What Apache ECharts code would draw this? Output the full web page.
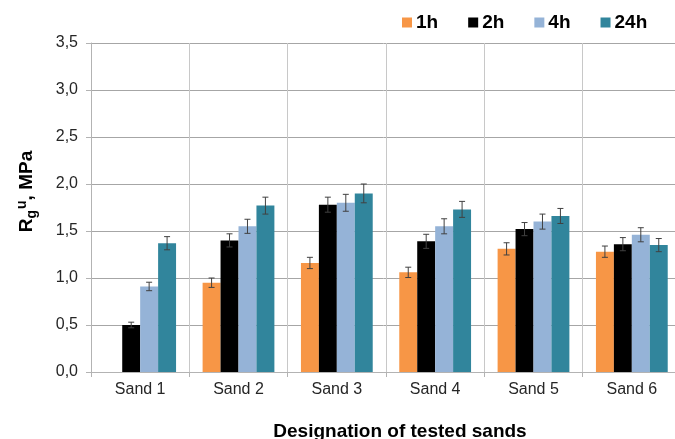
<!DOCTYPE html>
<html>
<head>
<meta charset="utf-8">
<script src="https://cdn.jsdelivr.net/npm/echarts@6/dist/echarts.min.js"></script>
<style>html,body{margin:0;padding:0;background:#fff}#c{width:675px;height:439px}</style>
</head>
<body>
<div id="c"></div>
<script>
var categories = ['Sand 1', 'Sand 2', 'Sand 3', 'Sand 4', 'Sand 5', 'Sand 6'];
var seriesNames = ['1h', '2h', '4h', '24h'];
var values1h = [null, 0.95, 1.16, 1.06, 1.31, 1.28];
var values2h = [0.50, 1.40, 1.78, 1.39, 1.52, 1.36];
var values4h = [0.91, 1.55, 1.80, 1.55, 1.60, 1.46];
var values24h = [1.37, 1.77, 1.90, 1.73, 1.66, 1.35];
var err1h = [null, 0.05, 0.06, 0.055, 0.065, 0.06];
var err2h = [0.03, 0.07, 0.08, 0.075, 0.07, 0.07];
var err4h = [0.045, 0.075, 0.09, 0.08, 0.08, 0.075];
var err24h = [0.07, 0.09, 0.10, 0.085, 0.08, 0.07];
var yTicks = [0, 0.5, 1.0, 1.5, 2.0, 2.5, 3.0, 3.5];

var colors = ['#F79646', '#000000', '#95B3D7', '#31859C'];
var allValues = [values1h, values2h, values4h, values24h];
var allErr = [err1h, err2h, err4h, err24h];
var catGap = 0.27;

var chart = echarts.init(document.getElementById('c'));
var series = [];
seriesNames.forEach(function (name, k) {
  series.push({
    name: name,
    type: 'bar',
    data: allValues[k],
    barGap: '0%',
    barCategoryGap: (catGap * 100) + '%',
    itemStyle: { color: colors[k] },
    z: 2
  });
});
seriesNames.forEach(function (name, k) {
  var d = [];
  allValues[k].forEach(function (v, i) {
    if (v != null) d.push([i, v, allErr[k][i]]);
  });
  series.push({
    type: 'custom',
    data: d,
    z: 5,
    silent: true,
    renderItem: function (params, api) {
      var i = api.value(0), v = api.value(1), e = api.value(2);
      var band = api.size([1, 0])[0];
      var group = band * (1 - catGap);
      var bw = group / 4;
      var c = api.coord([i, v]);
      var x = c[0] - group / 2 + bw * (k + 0.5);
      var yt = api.coord([i, v + e])[1];
      var yb = api.coord([i, v - e])[1];
      var cap = 3;
      var st = { stroke: '#404040', lineWidth: 1 };
      return {
        type: 'group',
        children: [
          { type: 'line', shape: { x1: x, y1: yt, x2: x, y2: yb }, style: st },
          { type: 'line', shape: { x1: x - cap, y1: yt, x2: x + cap, y2: yt }, style: st },
          { type: 'line', shape: { x1: x - cap, y1: yb, x2: x + cap, y2: yb }, style: st }
        ]
      };
    }
  });
});

chart.setOption({
  animation: false,
  color: colors,
  textStyle: { fontFamily: 'Liberation Sans, Arial, sans-serif' },
  legend: {
    data: seriesNames,
    left: 397,
    top: 8,
    icon: 'rect',
    itemWidth: 10,
    itemHeight: 10,
    itemGap: 30,
    textStyle: { fontSize: 19, fontWeight: 'bold', color: '#000', padding: [0, 0, 0, -1] }
  },
  grid: { left: 91, top: 43, width: 590, height: 329, outerBoundsMode: 'none', containLabel: false },
  xAxis: {
    type: 'category',
    data: categories,
    name: 'Designation of tested sands',
    nameLocation: 'middle',
    nameGap: 50,
    nameTextStyle: { fontSize: 19, fontWeight: 'bold', color: '#000', padding: [0, 0, 0, 28] },
    axisLine: { lineStyle: { color: '#b3b3b3' } },
    axisTick: { show: true, length: 5, lineStyle: { color: '#b3b3b3' } },
    axisLabel: { fontSize: 16, color: '#262626', margin: 10 },
    splitLine: { show: true, lineStyle: { color: '#c8c8c8' } }
  },
  yAxis: {
    type: 'value',
    min: 0,
    max: 3.5,
    interval: 0.5,
    name: '{b|R}{sub|g}{sup|u}{b|, MPa}',
    nameLocation: 'middle',
    nameGap: 52,
    nameRotate: 90,
    nameTextStyle: {
      padding: [0, 0, 0, 32],
      rich: {
        b: { fontSize: 19, fontWeight: 'bold', color: '#000' },
        sub: { fontSize: 14, fontWeight: 'bold', color: '#000', padding: [10, 0, 0, 0] },
        sup: { fontSize: 14, fontWeight: 'bold', color: '#000', padding: [0, 0, 10, 1] }
      }
    },
    axisLine: { show: true, lineStyle: { color: '#b3b3b3' } },
    axisTick: { show: true, length: 5, lineStyle: { color: '#b3b3b3' } },
    axisLabel: {
      fontSize: 16, color: '#262626', margin: 13,
      formatter: function (v) { return v.toFixed(1).replace('.', ','); }
    },
    splitLine: { lineStyle: { color: '#a6a6a6' } }
  },
  series: series
});
</script>
</body>
</html>
